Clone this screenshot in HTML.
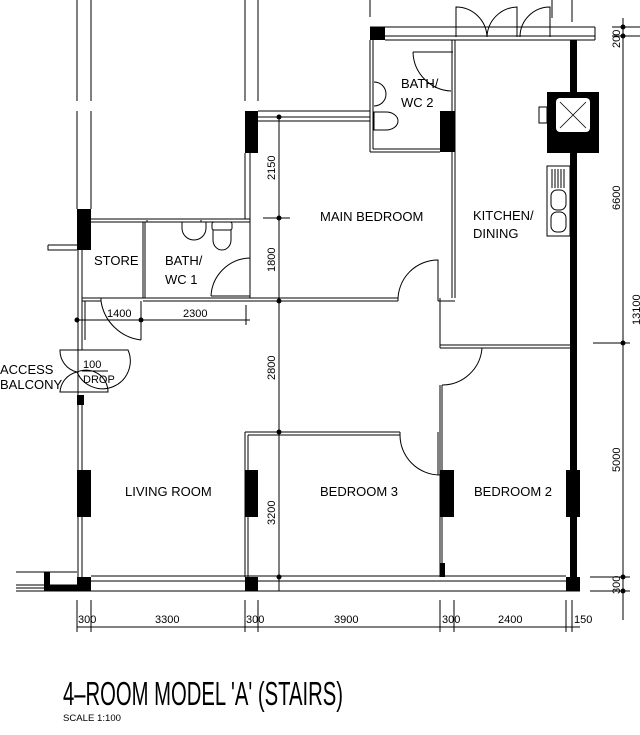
<!DOCTYPE html>
<html><head><meta charset="utf-8"><style>html,body{margin:0;padding:0;background:#fff}svg{display:block}text{font-family:"Liberation Sans",sans-serif;fill:#000}</style></head>
<body>
<svg width="640" height="735" viewBox="0 0 640 735" xmlns="http://www.w3.org/2000/svg">
<g stroke="#000" stroke-width="1" fill="none">
<line x1="77" y1="0" x2="77" y2="101"/><line x1="91" y1="0" x2="91" y2="101"/>
<line x1="77" y1="111" x2="77" y2="209"/><line x1="91" y1="111" x2="91" y2="209"/>
<line x1="245" y1="0" x2="245" y2="101"/><line x1="258" y1="0" x2="258" y2="101"/>
<line x1="370" y1="0" x2="370" y2="17"/><line x1="552" y1="0" x2="552" y2="18"/><line x1="572" y1="0" x2="572" y2="22"/>
<line x1="78" y1="250" x2="78" y2="577"/><line x1="82" y1="250" x2="82" y2="350"/><line x1="82" y1="395" x2="82" y2="577"/>
<path d="M48 245 H77 M48 245 V250 H77" />
<line x1="91" y1="219" x2="250" y2="219"/><line x1="91" y1="222" x2="250" y2="222"/>
<line x1="245" y1="153" x2="245" y2="219"/><line x1="250" y1="153" x2="250" y2="298"/>
<line x1="143" y1="222" x2="143" y2="298"/><line x1="145" y1="222" x2="145" y2="298"/>
<line x1="82" y1="298" x2="250" y2="298"/><line x1="82" y1="301" x2="101" y2="301"/><line x1="143" y1="301" x2="250" y2="301"/>
<line x1="82" y1="301" x2="82" y2="340"/><line x1="85" y1="301" x2="85" y2="340"/>
<path d="M101 301 V298 M101 301 A46 46 0 0 0 141 340 M141 301 V340"/>
<path d="M211 296 A40 40 0 0 1 250 258 M211 296 H250"/>
<rect x="147" y="219" width="54" height="3" stroke-dasharray="3 2"/>
<path d="M182 222 v6 a12 12 0 0 0 24 0 v-6"/>
<rect x="212" y="222" width="20" height="8" rx="2"/><path d="M213 230 v10 a9 10 0 0 0 18 0 v-10"/>
<line x1="258" y1="111" x2="370" y2="111"/><line x1="258" y1="117" x2="370" y2="117"/><line x1="258" y1="121" x2="370" y2="121"/>
<line x1="370" y1="40" x2="370" y2="152"/><line x1="373" y1="40" x2="373" y2="149"/>
<line x1="370" y1="152" x2="440" y2="152"/><line x1="373" y1="149" x2="440" y2="149"/>
<line x1="452" y1="40" x2="452" y2="298"/><line x1="455" y1="40" x2="455" y2="298"/>
<path d="M413 52 H453 M413 52 A40 40 0 0 0 451 91"/>
<path d="M374 82 a12 12 0 0 1 0 24"/>
<path d="M374 112 h12 a12 9 0 0 1 0 18 h-12 z"/>
<line x1="370" y1="27" x2="595" y2="27"/><line x1="385" y1="36" x2="595" y2="36"/><line x1="385" y1="40" x2="595" y2="40"/>
<line x1="595" y1="27" x2="595" y2="40"/>
<path d="M456 37 V7 A31 31 0 0 1 487 37 A31 31 0 0 1 517 7 V37 M520 37 A30 30 0 0 1 550 7 V37"/>
<line x1="250" y1="298" x2="398" y2="298"/><line x1="250" y1="301" x2="398" y2="301"/>
<path d="M398 301 A40 40 0 0 1 438 260 V301 M438 301 H455"/>
<line x1="440" y1="298" x2="440" y2="348"/>
<line x1="440" y1="345" x2="570" y2="345"/><line x1="440" y1="348" x2="570" y2="348"/>
<path d="M442 385 A40 40 0 0 0 482 348 M442 385 V577 M440 385 V577"/>
<line x1="245" y1="432" x2="400" y2="432"/><line x1="248" y1="435" x2="400" y2="435"/>
<path d="M400 432 v3 A40 40 0 0 0 440 475"/><line x1="438" y1="432" x2="438" y2="475"/>
<line x1="245" y1="432" x2="245" y2="577"/><line x1="248" y1="435" x2="248" y2="577"/>
<line x1="16" y1="572" x2="77" y2="572"/><line x1="16" y1="585" x2="77" y2="585"/><line x1="16" y1="588" x2="77" y2="588"/>
<line x1="16" y1="591" x2="580" y2="591"/>
<line x1="91" y1="576" x2="566" y2="576"/><line x1="91" y1="581" x2="566" y2="581"/>
<line x1="279" y1="117" x2="279" y2="591"/>
<line x1="263" y1="218" x2="290" y2="218"/><line x1="246" y1="305" x2="246" y2="325"/>
<line x1="77" y1="320" x2="250" y2="320"/><line x1="141" y1="305" x2="141" y2="325"/>
<line x1="258" y1="432" x2="279" y2="432"/>
<line x1="612" y1="27" x2="640" y2="27"/><line x1="612" y1="36" x2="640" y2="36"/>
<line x1="623" y1="18" x2="623" y2="620"/>
<line x1="593" y1="343" x2="630" y2="343"/><line x1="590" y1="577" x2="630" y2="577"/><line x1="590" y1="591" x2="630" y2="591"/>
<line x1="77" y1="627" x2="580" y2="627"/>
<g><line x1="77" y1="600" x2="77" y2="632"/><line x1="91" y1="600" x2="91" y2="632"/><line x1="245" y1="600" x2="245" y2="632"/><line x1="258" y1="600" x2="258" y2="632"/><line x1="440" y1="600" x2="440" y2="632"/><line x1="454" y1="600" x2="454" y2="632"/><line x1="566" y1="600" x2="566" y2="632"/><line x1="572" y1="600" x2="572" y2="632"/></g>
<path d="M77 350 H60 A22 22 0 0 0 77 372 M77 350 H128 A22 22 0 0 1 77 372 M77 372 A22 22 0 0 0 60 392 H77 M77 372 A22 22 0 0 1 108 392 H77"/>
<rect x="547" y="166" width="23" height="70"/>
<rect x="551" y="190" width="15" height="20" rx="6"/><rect x="551" y="212" width="15" height="20" rx="6"/>
<path d="M552 169v19M555 169v19M558 169v19M561 169v19M564 169v19"/>
<rect x="539" y="107" width="8" height="16"/>
</g>
<g fill="#000">
<rect x="77" y="209" width="14" height="41"/>
<rect x="245" y="111" width="13" height="42"/>
<rect x="370" y="27" width="15" height="13"/>
<rect x="440" y="111" width="15" height="41"/>
<rect x="570" y="40" width="7" height="537"/>
<rect x="547" y="92" width="52" height="61"/>
<rect x="77" y="470" width="14" height="47"/>
<rect x="245" y="470" width="13" height="47"/>
<rect x="440" y="470" width="14" height="47"/>
<rect x="566" y="470" width="14" height="47"/>
<rect x="77" y="577" width="14" height="14"/>
<rect x="245" y="577" width="13" height="14"/>
<rect x="566" y="577" width="14" height="14"/>
<rect x="44" y="572" width="6" height="19"/><rect x="44" y="585" width="33" height="6"/>
<rect x="77" y="395" width="7" height="10"/>
<rect x="440" y="563" width="5" height="14"/>
<circle cx="279" cy="117" r="2.5"/><circle cx="279" cy="218" r="2.5"/><circle cx="279" cy="301" r="2.5"/><circle cx="279" cy="432" r="2.5"/><circle cx="279" cy="577" r="2.5"/>
<circle cx="623" cy="27" r="2.5"/><circle cx="623" cy="36" r="2.5"/><circle cx="623" cy="343" r="2.5"/><circle cx="623" cy="577" r="2.5"/><circle cx="623" cy="591" r="2.5"/>
<circle cx="77" cy="320" r="2.5"/><circle cx="141" cy="320" r="2.5"/>
</g>
<rect x="556" y="98" width="34" height="34" rx="4" fill="#fff"/>
<path d="M560 102 L586 128 M586 102 L560 128" stroke="#000" stroke-width="0.8"/>
<g font-size="13">
<text x="94" y="265">STORE</text>
<text x="165" y="265">BATH/</text><text x="165" y="284">WC 1</text>
<text x="401" y="88">BATH/</text><text x="401" y="107">WC 2</text>
<text x="320" y="221">MAIN BEDROOM</text>
<text x="473" y="220">KITCHEN/</text><text x="473" y="238">DINING</text>
<text x="125" y="496">LIVING ROOM</text>
<text x="320" y="496">BEDROOM 3</text>
<text x="474" y="496">BEDROOM 2</text>
<text x="0" y="374">ACCESS</text><text x="0" y="389">BALCONY</text>
</g>
<g font-size="11">
<text x="83" y="368">100</text><line x1="82" y1="371" x2="108" y2="371" stroke="#000"/><text x="83" y="383">DROP</text>
<text x="107" y="317">1400</text><text x="183" y="317">2300</text>
<text x="78" y="623">300</text><text x="155" y="623">3300</text><text x="246" y="623">300</text><text x="334" y="623">3900</text><text x="442" y="623">300</text><text x="498" y="623">2400</text><text x="574" y="623">150</text>
<text transform="translate(275,180) rotate(-90)">2150</text>
<text transform="translate(275,272) rotate(-90)">1800</text>
<text transform="translate(275,380) rotate(-90)">2800</text>
<text transform="translate(275,525) rotate(-90)">3200</text>
<text transform="translate(620,48) rotate(-90)">200</text>
<text transform="translate(620,210) rotate(-90)">6600</text>
<text transform="translate(640,325) rotate(-90)">13100</text>
<text transform="translate(620,472) rotate(-90)">5000</text>
<text transform="translate(620,594) rotate(-90)">300</text>
</g>
<text x="63" y="705" font-size="33" textLength="280" lengthAdjust="spacingAndGlyphs">4–ROOM MODEL 'A' (STAIRS)</text>
<text x="63" y="721" font-size="9" textLength="58" lengthAdjust="spacingAndGlyphs">SCALE  1:100</text>
</svg>
</body></html>
